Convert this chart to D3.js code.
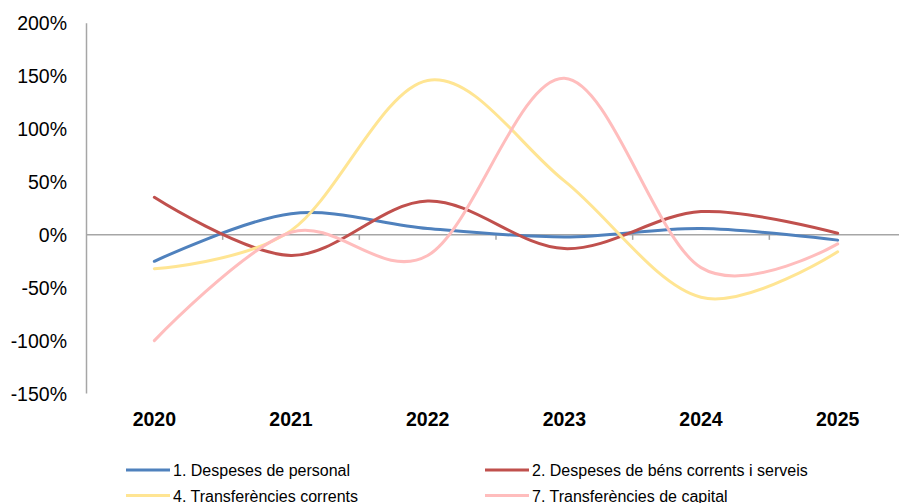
<!DOCTYPE html>
<html>
<head>
<meta charset="utf-8">
<script src="https://cdn.jsdelivr.net/npm/d3@7"></script>
<style>
  html, body { margin: 0; padding: 0; background: #fff; }
  svg { display: block; font-family: "Liberation Sans", Arial, sans-serif; }
</style>
</head>
<body>
<svg id="chart" width="899" height="503"></svg>
<script>
const years = ["2020", "2021", "2022", "2023", "2024", "2025"];
const seriesNames = [
  "1. Despeses de personal",
  "2. Despeses de béns corrents i serveis",
  "4. Transferències corrents",
  "7. Transferències de capital"
];
const personal = [-25, 20, 6, -2, 6, -5];
const bensCorrents = [35.5, -19.5, 32, -13, 22, 1.5];
const transfCorrents = [-32, 4, 146, 51, -59, -16];
const transfCapital = [-100, 2.5, -19.5, 148, -31, -8.5];
const yTicks = [-150, -100, -50, 0, 50, 100, 150, 200];
const colors = ["#4F81BD", "#C0504D", "#FFE593", "#FFBDBD"];

const seriesValues = [personal, bensCorrents, transfCorrents, transfCapital];

const svg = d3.select("#chart");
const x0 = 86, x1 = 906;
const x = d3.scaleBand().domain(years).range([x0, x1]).paddingInner(0).paddingOuter(0);
const y = d3.scaleLinear().domain([-150, 200]).range([393.5, 23.3]);

const axisColor = "#A6A6A6";

// y axis line
svg.append("line")
  .attr("x1", x0 + 0.5).attr("x2", x0 + 0.5)
  .attr("y1", y(200)).attr("y2", y(-150))
  .attr("stroke", axisColor).attr("stroke-width", 1.5);

// y tick labels
svg.append("g").selectAll("text").data(yTicks).join("text")
  .attr("x", 67)
  .attr("y", d => y(d))
  .attr("dy", "0.36em")
  .attr("text-anchor", "end")
  .attr("font-size", "19.5px")
  .attr("fill", "#000")
  .text(d => d + "%");

// zero line (category axis crossing at 0)
svg.append("line")
  .attr("x1", x0).attr("x2", 899)
  .attr("y1", y(0)).attr("y2", y(0))
  .attr("stroke", axisColor).attr("stroke-width", 1.5);

// category tick marks at band boundaries
const boundaries = years.slice(1).map(d => x(d));
svg.append("g").selectAll("line").data(boundaries).join("line")
  .attr("x1", d => d).attr("x2", d => d)
  .attr("y1", y(0)).attr("y2", y(0) + 5)
  .attr("stroke", axisColor).attr("stroke-width", 1.5);

// x labels
svg.append("g").selectAll("text").data(years).join("text")
  .attr("x", d => x(d) + x.bandwidth() / 2)
  .attr("y", 425.5)
  .attr("text-anchor", "middle")
  .attr("font-size", "19.5px")
  .attr("font-weight", "bold")
  .attr("fill", "#000")
  .text(d => d);

// lines
const line = d3.line()
  .x((d, i) => x(years[i]) + x.bandwidth() / 2)
  .y(d => y(d))
  .curve(d3.curveCardinal.tension(0));

const drawOrder = [0, 1, 2, 3];
svg.append("g").selectAll("path").data(drawOrder).join("path")
  .attr("d", i => line(seriesValues[i]))
  .attr("fill", "none")
  .attr("stroke", i => colors[i])
  .attr("stroke-width", 3)
  .attr("stroke-linecap", "round")
  .attr("stroke-linejoin", "round");

// legend
const legendPos = [
  { lx: 126, ty: 476 },
  { lx: 485, ty: 476 },
  { lx: 126, ty: 501.5 },
  { lx: 485, ty: 501.5 }
];
const lg = svg.append("g");
seriesNames.forEach((name, i) => {
  const p = legendPos[i];
  lg.append("line")
    .attr("x1", p.lx).attr("x2", p.lx + 44)
    .attr("y1", p.ty - 6).attr("y2", p.ty - 6)
    .attr("stroke", colors[i]).attr("stroke-width", 3);
  lg.append("text")
    .attr("x", p.lx + 47)
    .attr("y", p.ty)
    .attr("font-size", "16px")
    .attr("fill", "#000")
    .text(name);
});
</script>
</body>
</html>
